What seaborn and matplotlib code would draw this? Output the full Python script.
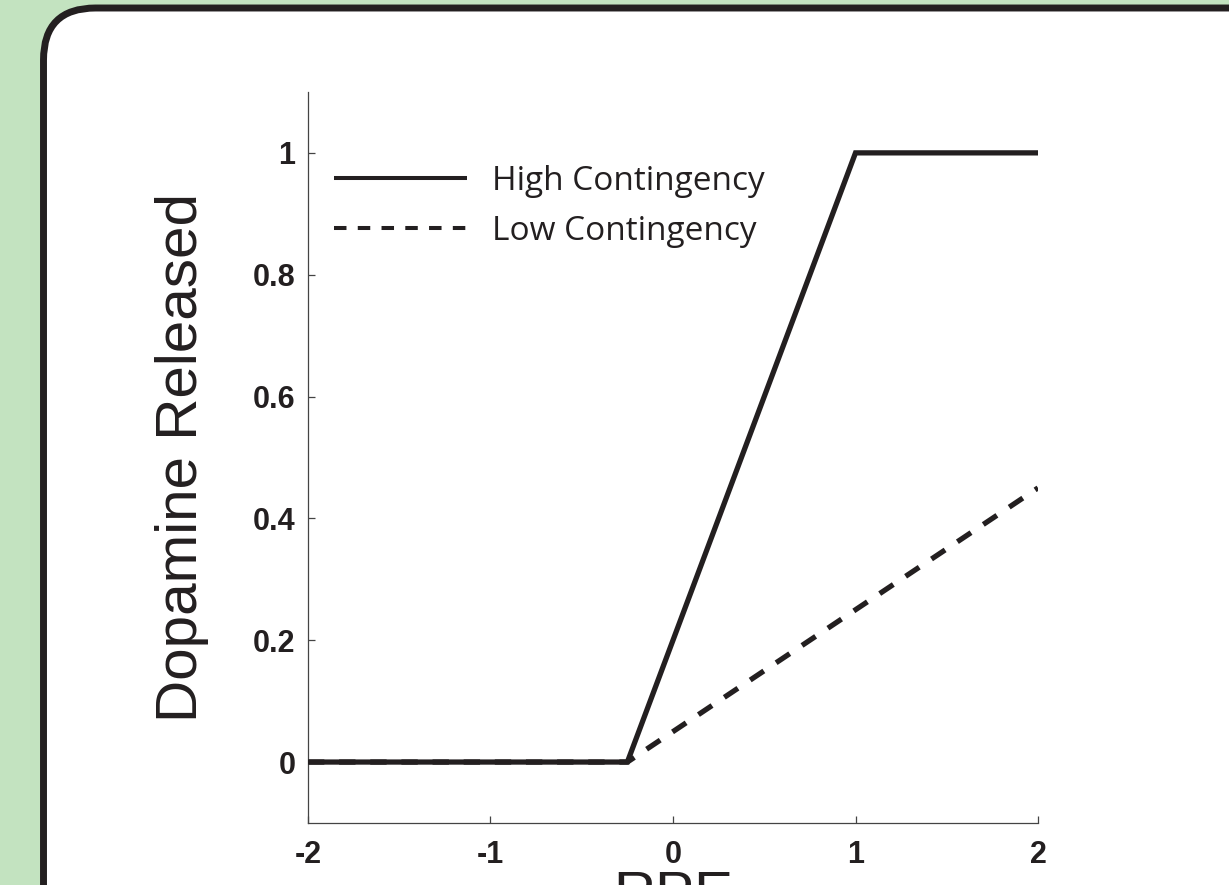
import pandas as pd
import matplotlib.pyplot as plt
import seaborn as sns
from matplotlib.patches import FancyBboxPatch
from matplotlib.lines import Line2D

# curve data
high_x = [-2, -0.25, 1, 2]
high_y = [0, 0, 1, 1]
low_x = [-2, -0.25, 2]
low_y = [0, 0, 0.45]
labels = ['High Contingency', 'Low Contingency']
x_ticks = [-2, -1, 0, 1, 2]
y_ticks = [0, 0.2, 0.4, 0.6, 0.8, 1]

df = pd.concat([
    pd.DataFrame({'RPE': high_x, 'DA': high_y, 'cond': labels[0]}),
    pd.DataFrame({'RPE': low_x, 'DA': low_y, 'cond': labels[1]}),
])

sns.set_theme(style='ticks')
plt.rcParams['font.family'] = ['Liberation Sans', 'DejaVu Sans']

ink = '#231f20'
fig = plt.figure(figsize=(12.29, 8.85), dpi=100, facecolor='#c3e3c0')

# white rounded panel behind the plot
panel = FancyBboxPatch((0.435, -1.0), 13.5, 9.77,
                       boxstyle='round,pad=0,rounding_size=0.52',
                       transform=fig.dpi_scale_trans, facecolor='white',
                       edgecolor=ink, linewidth=5, zorder=-1)
fig.patches.append(panel)

ax = fig.add_axes([0.2506, 0.0701, 0.594, 0.826])
ax.set_facecolor('none')

dash = (3.1, 2.8)
sns.lineplot(data=df, x='RPE', y='DA', style='cond', ax=ax,
             dashes={labels[0]: '', labels[1]: dash},
             color=ink, lw=3.8, legend=False, sort=False)
for ln in ax.lines:
    ln.set_solid_joinstyle('miter')
    ln.set_solid_capstyle('butt')
    ln.set_dash_capstyle('butt')
# draw high line above the dashed one
ax.lines[0].set_zorder(3)

ax.set_xlim(-2, 2)
ax.set_ylim(-0.1, 1.1)
ax.set_xticks(x_ticks)
ax.set_yticks(y_ticks)
ax.set_xticklabels([str(v) for v in x_ticks])
ax.set_yticklabels(['0', '0.2', '0.4', '0.6', '0.8', '1'])
sns.despine(ax=ax)
for s in ['left', 'bottom']:
    ax.spines[s].set_color('#444444')
    ax.spines[s].set_linewidth(0.9)
ax.tick_params(direction='in', length=5, width=0.9, color='#444444',
               labelsize=22, labelcolor=ink, pad=9)
ax.tick_params(axis='x', pad=12.5)
for t in ax.get_xticklabels() + ax.get_yticklabels():
    t.set_fontweight('bold')

ax.set_xlabel('RPE', fontsize=42, color=ink)
ax.set_ylabel('Dopamine Released', fontsize=42, color=ink)
ax.xaxis.set_label_coords(0.5, -0.0647)
ax.yaxis.set_label_coords(-0.1356, 0.5)

handles = [Line2D([], [], color=ink, lw=2.9, solid_capstyle='butt'),
           Line2D([], [], color=ink, lw=2.9, dashes=dash, dash_capstyle='butt')]
ax.legend(handles, labels, loc='upper left', bbox_to_anchor=(0.0356, 0.900),
          frameon=False, borderpad=0, borderaxespad=0, handlelength=4.0,
          handletextpad=0.75, labelspacing=0.51,
          prop={'family': 'Open Sans', 'size': 24}, labelcolor=ink)

plt.savefig('out.png', dpi=100, facecolor=fig.get_facecolor())
